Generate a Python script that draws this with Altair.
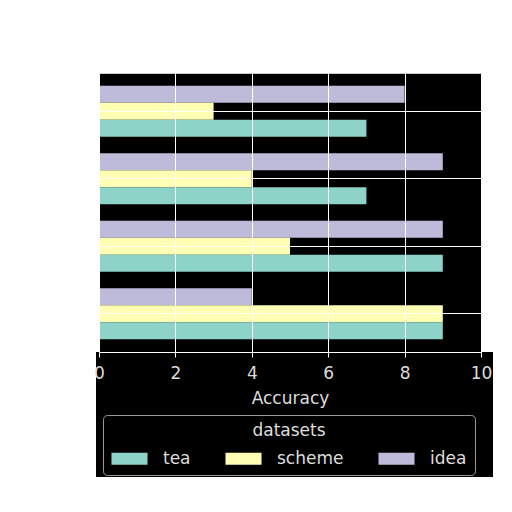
import altair as alt
import pandas as pd

groups = ["g1", "g2", "g3", "g4"]  # top to bottom
series = ["idea", "scheme", "tea"]  # top to bottom within a group
tea = [7, 7, 9, 9]
scheme = [3, 4, 5, 9]
idea = [8, 9, 9, 4]
legend_order = ["tea", "scheme", "idea"]
colors = ["#8dd3c7", "#ffffb3", "#bebada"]

rows = []
for i, g in enumerate(groups):
    rows.append({"group": g, "dataset": "idea", "acc": idea[i]})
    rows.append({"group": g, "dataset": "scheme", "acc": scheme[i]})
    rows.append({"group": g, "dataset": "tea", "acc": tea[i]})
df = pd.DataFrame(rows)

W, H = 382, 279

backdrop = alt.Chart(pd.DataFrame({"k": [0]})).mark_rect(color="black", clip=False).encode(
    x=alt.value(-3), x2=alt.value(W + 12), y=alt.value(H), y2=alt.value(H + 125)
)

bars = alt.Chart(df).mark_bar(clip=False, strokeWidth=0).encode(
    x=alt.X("acc:Q", scale=alt.Scale(domain=[0, 10], nice=False),
            axis=alt.Axis(title="Accuracy", values=[0, 2, 4, 6, 8, 10], format="d",
                          grid=True, gridColor="white", gridWidth=1, gridOpacity=1,
                          domainColor="white", tickColor="white", tickSize=5,
                          labelColor="#dddddd", titleColor="#dddddd",
                          labelFontSize=17, titleFontSize=17, labelPadding=8,
                          labelFlush=False,
                          titlePadding=9, titleFontWeight="normal",
                          labelFont="DejaVu Sans", titleFont="DejaVu Sans", zindex=1)),
    y=alt.Y("group:N", sort=groups,
            scale=alt.Scale(paddingInner=0, paddingOuter=0.067),
            axis=alt.Axis(title=None, labels=False, ticks=False, domain=False,
                          grid=True, gridColor="white", gridWidth=1, gridOpacity=1,
                          bandPosition=0.5, zindex=1)),
    yOffset=alt.YOffset("dataset:N", sort=series,
                        scale=alt.Scale(paddingInner=0, paddingOuter=0.485)),
    color=alt.Color("dataset:N", sort=legend_order,
                    scale=alt.Scale(domain=legend_order, range=colors),
                    legend=alt.Legend(title="datasets", orient="none", legendX=4, legendY=342,
                                      direction="horizontal", columns=3,
                                      fillColor="black", strokeColor="#999999",
                                      cornerRadius=4, padding=8,
                                      symbolType="M-1,-0.33H1V0.33H-1Z", symbolSize=1300,
                                      symbolStrokeWidth=0, symbolOpacity=1,
                                      labelColor="#dddddd", titleColor="#dddddd",
                                      labelFontSize=17, titleFontSize=17,
                                      titleFontWeight="normal", titleAnchor="middle",
                                      labelFont="DejaVu Sans", titleFont="DejaVu Sans",
                                      labelOffset=15, columnPadding=34, titlePadding=0)),
)

chart = alt.layer(backdrop, bars).properties(
    width=W, height=H,
    padding={"left": 85, "top": 65, "right": 10, "bottom": 10},
    background="white",
).configure_view(fill="black", stroke="#cccccc", strokeWidth=1)

chart.save("out.html", embed_options={"renderer": "svg", "actions": False})
